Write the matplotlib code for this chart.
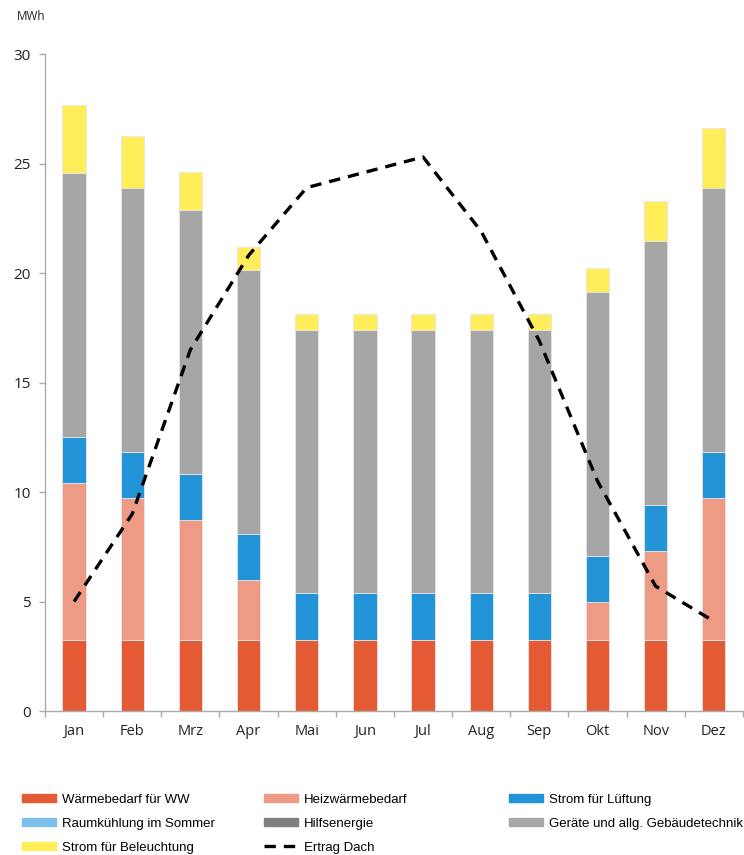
import matplotlib
matplotlib.use("Agg")
import matplotlib.pyplot as plt
import matplotlib.patches as mpatches
from matplotlib.lines import Line2D
import numpy as np

months = ["Jan", "Feb", "Mrz", "Apr", "Mai", "Jun", "Jul", "Aug", "Sep", "Okt", "Nov", "Dez"]

# monthly demand components in MWh
waerme_ww    = [3.25] * 12
heizwaerme   = [7.16, 6.48, 5.47, 2.73, 0, 0, 0, 0, 0, 1.72, 4.06, 6.48]
lueftung     = [2.12] * 12
raumkuehlung = [0] * 12
hilfsenergie = [0] * 12
geraete      = [12.05] * 12
beleuchtung  = [3.07, 2.38, 1.72, 1.05, 0.69, 0.69, 0.69, 0.69, 0.69, 1.10, 1.79, 2.70]

# PV yield roof
ertrag_dach  = [5.0, 9.0, 16.5, 20.8, 23.9, 24.6, 25.3, 21.9, 16.9, 10.5, 5.7, 4.1]

series = [
    ("Wärmebedarf für WW", waerme_ww, "#E35A35"),
    ("Heizwärmebedarf", heizwaerme, "#ED9B84"),
    ("Strom für Lüftung", lueftung, "#2393D8"),
    ("Raumkühlung im Sommer", raumkuehlung, "#7BBFEA"),
    ("Hilfsenergie", hilfsenergie, "#7F7F7F"),
    ("Geräte und allg. Gebäudetechnik", geraete, "#A6A6A6"),
    ("Strom für Beleuchtung", beleuchtung, "#FFED5A"),
]

plt.rcParams["font.family"] = ["Open Sans", "DejaVu Sans"]

fig = plt.figure(figsize=(7.44, 8.55), dpi=100)
ax = fig.add_axes([0.0605, 0.1684, 0.938, 0.7684])

x = np.arange(len(months))
bottom = np.zeros(len(months))
handles = {}
for label, vals, color in series:
    vals = np.asarray(vals, dtype=float)
    ax.bar(x, vals, width=0.4, bottom=bottom, color=color,
           edgecolor="#e6e6e6", linewidth=0.6)
    handles[label] = mpatches.Patch(color=color, label=label)
    bottom += vals

dash = (0, (3.4, 2.4))
ax.plot(x, ertrag_dach, color="black", linewidth=2.4, linestyle=dash,
        dash_capstyle="butt", zorder=5)
handles["Ertrag Dach"] = Line2D([], [], color="black", linewidth=2.4,
                                linestyle=dash, label="Ertrag Dach")

ax.set_xlim(-0.5, 11.5)
ax.set_ylim(0, 30)
ax.set_yticks([0, 5, 10, 15, 20, 25, 30])
ax.set_xticks(x)
ax.set_xticklabels(months)
ax.set_xticks(np.arange(-0.5, 12, 1), minor=True)
ax.tick_params(axis="x", which="major", length=0, pad=9, labelsize=10.5, colors="#222222")
ax.tick_params(axis="x", which="minor", length=4, width=1, color="#aaaaaa")
ax.tick_params(axis="y", length=4, width=1, color="#aaaaaa", pad=6,
               labelsize=11, labelcolor="#222222")

for side in ("top", "right"):
    ax.spines[side].set_visible(False)
for side in ("left", "bottom"):
    ax.spines[side].set_color("#aaaaaa")
    ax.spines[side].set_linewidth(1)

fig.text(17 / 744, 1 - 16 / 855, "MWh", fontsize=8.5, color="#222222", va="center")

# legend laid out in three columns
columns = [
    ["Wärmebedarf für WW", "Raumkühlung im Sommer", "Strom für Beleuchtung"],
    ["Heizwärmebedarf", "Hilfsenergie", "Ertrag Dach"],
    ["Strom für Lüftung", "Geräte und allg. Gebäudetechnik"],
]
col_x = [22 / 744, 264 / 744, 509 / 744]
for cx, names in zip(col_x, columns):
    fig.legend(handles=[handles[n] for n in names], loc="upper left",
               bbox_to_anchor=(cx, 1 - 794 / 855), frameon=False,
               prop={"family": ["Liberation Sans Narrow", "Liberation Sans"], "size": 9.5},
               handlelength=2.6, handleheight=0.55, handletextpad=0.4,
               labelspacing=0.9, borderaxespad=0, borderpad=0)

fig.savefig("out.png", dpi=100)
